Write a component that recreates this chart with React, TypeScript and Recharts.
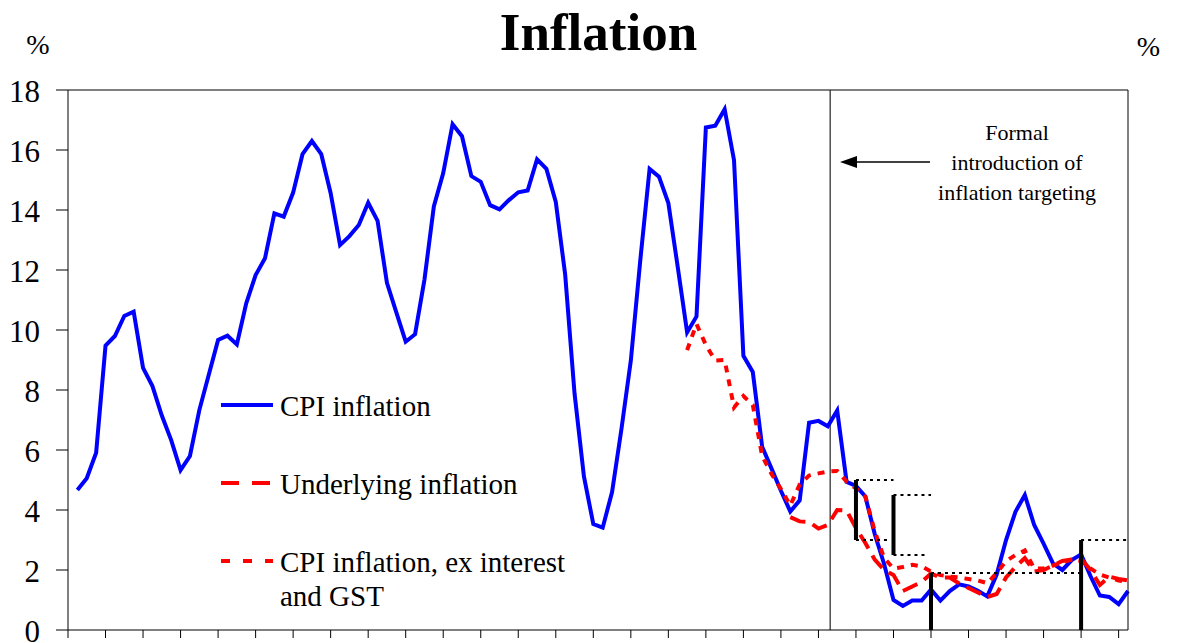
import { LineChart, Line, XAxis, YAxis, ReferenceLine } from "recharts";

const FONT = "'Liberation Serif', 'Times New Roman', Times, serif";

// quarterly index: 0 = Dec 1969 tick, 1 = Mar 1970 ... 113 = Mar 1998
const cpiInflation = [
  4.67, 5.06, 5.91, 9.48, 9.8, 10.47, 10.61, 8.74, 8.13, 7.15,
  6.33, 5.33, 5.8, 7.33, 8.5, 9.67, 9.81, 9.52, 10.89, 11.83,
  12.39, 13.89, 13.78, 14.58, 15.86, 16.3, 15.86, 14.56, 12.83, 13.13,
  13.5, 14.24, 13.64, 11.57, 10.59, 9.61, 9.86, 11.68, 14.12, 15.23,
  16.86, 16.46, 15.13, 14.94, 14.16, 14.02, 14.33, 14.59, 14.65, 15.69,
  15.37, 14.27, 11.85, 7.88, 5.12, 3.53, 3.41, 4.6, 6.7, 8.98,
  12.3, 15.37, 15.11, 14.23, 12.1, 9.92, 10.45, 16.75, 16.81, 17.36,
  15.66, 9.14, 8.6, 6.11, 5.38, 4.64, 3.95, 4.32, 6.91, 6.97,
  6.79, 7.32, 4.94, 4.8, 4.45, 3.2, 2.2, 1.0, 0.8, 0.98,
  0.98, 1.35, 0.98, 1.3, 1.52, 1.45, 1.31, 1.12, 1.85, 3.0,
  3.94, 4.5, 3.5, 2.88, 2.22, 2.0, 2.33, 2.52, 1.8, 1.15,
  1.1, 0.86, 1.3,
];

const underlyingStart = 77;
const underlyingInflation = [
  3.76, 3.62, 3.6, 3.38, 3.5, 4.0, 3.98, 3.4, 2.9, 2.35,
  2.0, 1.83, 1.3, 1.45, 1.6, 1.88, 1.75, 1.75, 1.55, 1.4,
  1.25, 1.1, 1.2, 1.75, 2.1, 2.4, 1.95, 2.0, 2.15, 2.3,
  2.35, 2.38, 2.0, 1.5, 1.78, 1.7, 1.65,
];

const exInterestStart = 66;
const cpiExInterestGst = [
  9.33, 10.2, 9.5, 8.98, 9.0, 7.42, 7.8, 7.5, 5.8, 5.2,
  4.7, 4.15, 4.85, 5.15, 5.22, 5.28, 5.3, 4.95, 4.72, 4.45,
  3.3, 2.4, 2.05, 2.1, 2.17, 2.12, 1.95, 1.83, 1.78, 1.75,
  1.7, 1.65, 1.56, 1.9, 2.3, 2.5, 2.65, 2.05, 2.05, 2.15,
  2.25, 2.35, 2.3, 2.05, 1.85, 1.75, 1.65, 1.6,
];

const yearTicks = [
  0, 4, 8, 12, 16, 20, 24, 28, 32, 36, 40, 44, 48, 52, 56,
  60, 64, 68, 72, 76, 80, 84, 88, 92, 96, 100, 104, 108, 112,
];
const pctTicks = [0, 2, 4, 6, 8, 10, 12, 14, 16, 18];

// inflation target ranges (quarter index from/to, % low/high)
const targetBands = [
  { from: 84, to: 88, low: 3, high: 5 },
  { from: 88, to: 92, low: 2.5, high: 4.5 },
  { from: 92, to: 108, low: 0, high: 1.9 },
  { from: 108, to: 113, low: 0, high: 3 },
];
const targetingStart = 81.25;

const legendItems = [
  { label: ["CPI inflation"], color: "#0000ff", dash: undefined },
  { label: ["Underlying inflation"], color: "#ff0000", dash: "18 13" },
  { label: ["CPI inflation, ex interest", "and GST"], color: "#ff0000", dash: "9 13" },
];

const rows = cpiInflation.map((v, i) => {
  const q = i + 1;
  const u = q - underlyingStart;
  const e = q - exInterestStart;
  return {
    q,
    cpi: v,
    underlying: u >= 0 ? underlyingInflation[u] : null,
    exGst: e >= 0 ? cpiExInterestGst[e] : null,
  };
});

const LeftTick = (props: any) => (
  <text x={props.x} y={props.y + 12} textAnchor="end" fontFamily={FONT} fontSize={31} fill="#000">
    {props.payload.value}
  </text>
);

const RightTick = (props: any) => (
  <text x={props.x} y={props.y + 12} textAnchor="start" fontFamily={FONT} fontSize={31} fill="#000">
    {props.payload.value}
  </text>
);

export default function App() {
  return (
    <div style={{ position: "absolute", left: 0, top: 0, width: 1199, height: 643, background: "#fff" }}>
      <LineChart
        width={1199}
        height={643}
        data={rows}
        margin={{ top: 90, right: 0, bottom: 0, left: 0 }}
      >
        <XAxis
          dataKey="q"
          type="number"
          domain={[0, 113]}
          ticks={yearTicks}
          interval={0}
          height={13}
          tickSize={8}
          stroke="#000"
          tick={() => <g />}
        />
        <YAxis
          yAxisId="left"
          domain={[0, 18]}
          ticks={pctTicks}
          interval={0}
          width={68}
          tickSize={12}
          tickMargin={16}
          stroke="#000"
          tick={<LeftTick />}
        />
        <YAxis
          yAxisId="right"
          orientation="right"
          domain={[0, 18]}
          ticks={pctTicks}
          interval={0}
          width={71}
          tickSize={12}
          tickMargin={16}
          stroke="#000"
          tick={<RightTick />}
        />
        <ReferenceLine yAxisId="left" y={18} stroke="#000" strokeWidth={1} />
        <ReferenceLine yAxisId="left" x={targetingStart} stroke="#222" strokeWidth={1.2} />

        <Line
          yAxisId="left"
          dataKey="cpi"
          type="linear"
          stroke="#0000ff"
          strokeWidth={4}
          dot={false}
          isAnimationActive={false}
        />
        <Line
          yAxisId="left"
          dataKey="underlying"
          type="linear"
          stroke="#ff0000"
          strokeWidth={4}
          strokeDasharray="16 8"
          dot={false}
          isAnimationActive={false}
        />
        <Line
          yAxisId="left"
          dataKey="exGst"
          type="linear"
          stroke="#ff0000"
          strokeWidth={4}
          strokeDasharray="7 7"
          dot={false}
          isAnimationActive={false}
        />

        {targetBands.map((b, i) => (
          <ReferenceLine
            key={"v" + i}
            yAxisId="left"
            ifOverflow="visible"
            segment={[{ x: b.from, y: b.low }, { x: b.from, y: b.high }]}
            stroke="#000"
            strokeWidth={4}
          />
        ))}
        {targetBands.map((b, i) => (
          <ReferenceLine
            key={"h" + i}
            yAxisId="left"
            ifOverflow="visible"
            segment={[{ x: b.from, y: b.high }, { x: b.to, y: b.high }]}
            stroke="#000"
            strokeWidth={2}
            strokeDasharray="3 4"
          />
        ))}
        {targetBands
          .filter((b) => b.low > 0)
          .map((b, i) => (
            <ReferenceLine
              key={"l" + i}
              yAxisId="left"
              ifOverflow="visible"
              segment={[{ x: b.from, y: b.low }, { x: b.to - 0.3, y: b.low }]}
              stroke="#000"
              strokeWidth={2}
              strokeDasharray="3 4"
            />
          ))}
      </LineChart>

      <svg
        width={1199}
        height={643}
        style={{ position: "absolute", left: 0, top: 0, pointerEvents: "none" }}
        fontFamily={FONT}
      >
        <text x={598.5} y={50} textAnchor="middle" fontSize={53} fontWeight="bold" fill="#000">
          Inflation
        </text>
        <text x={38} y={54} textAnchor="middle" fontSize={28} fill="#000">%</text>
        <text x={1148.5} y={56} textAnchor="middle" fontSize={28} fill="#000">%</text>

        <text x={1017} y={139.5} textAnchor="middle" fontSize={22} fill="#000">Formal</text>
        <text x={1017} y={170} textAnchor="middle" fontSize={22} fill="#000">introduction of</text>
        <text x={1017} y={200} textAnchor="middle" fontSize={22} fill="#000">inflation targeting</text>
        <line x1={930} y1={162} x2={852} y2={162} stroke="#000" strokeWidth={1.3} />
        <polygon points="840,162 857,156 857,168" fill="#000" />

        {legendItems.map((it, i) => {
          const y = 405 + i * 78;
          return (
            <g key={i}>
              <line
                x1={221}
                y1={y}
                x2={273}
                y2={y}
                stroke={it.color}
                strokeWidth={4}
                strokeDasharray={it.dash}
              />
              {it.label.map((t, j) => (
                <text key={j} x={280} y={y + 11 + j * 34} fontSize={29} fill="#000">
                  {t}
                </text>
              ))}
            </g>
          );
        })}
      </svg>
    </div>
  );
}
